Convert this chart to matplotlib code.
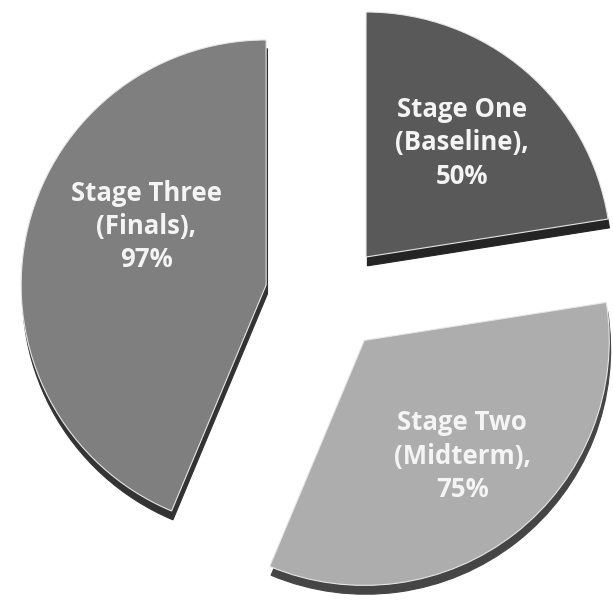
import matplotlib
matplotlib.use("Agg")
import matplotlib.pyplot as plt

# stage names and scores
stages = ["Stage One\n(Baseline)", "Stage Two\n(Midterm)", "Stage Three\n(Finals)"]
scores = [50, 75, 97]
colors = ["#595959", "#adadad", "#7f7f7f"]
explode = [0.22, 0.22, 0.27]
# small nudges for the label text (data units)
label_nudge = [(0.0, 0.01), (0.03, 0.0), (0.1, 0.12)]

labels = [f"{s},\n{v}%" for s, v in zip(stages, scores)]

fig = plt.figure(figsize=(6.13, 6.06), dpi=100)
ax = fig.add_axes([0, 0, 1, 1])

wedges, texts = ax.pie(
    scores,
    labels=labels,
    colors=colors,
    explode=explode,
    startangle=90,
    counterclock=False,
    radius=1.0,
    labeldistance=0.6,
    shadow={'ox': 0.004, 'oy': -0.026, 'shade': 0.6, 'alpha': 1.0},
    wedgeprops={'linewidth': 0.8, 'edgecolor': '#e6e6e6'},
    textprops={'ha': 'center', 'va': 'center', 'color': '#f4f4f4',
               'fontsize': 18.5, 'fontweight': 'bold', 'family': 'Open Sans',
               'linespacing': 1.3},
)

for t, (dx, dy) in zip(texts, label_nudge):
    x, y = t.get_position()
    t.set_position((x + dx, y + dy))

ax.set_xlim(-1.351, 1.151)
ax.set_ylim(-1.257, 1.216)
ax.axis('off')

fig.savefig("out.png", dpi=100)
